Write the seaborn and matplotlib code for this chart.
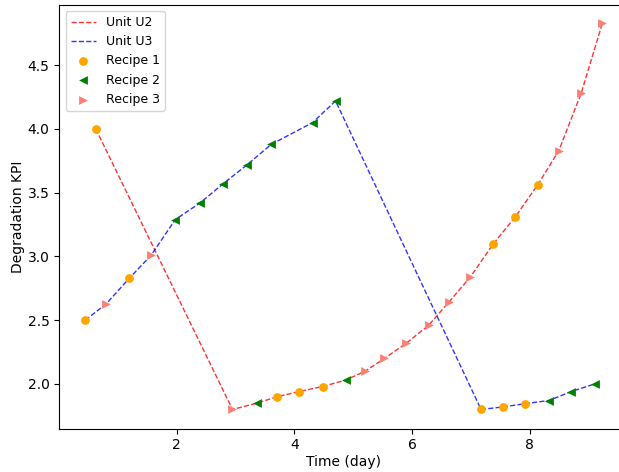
import seaborn as sns
import matplotlib.pyplot as plt
import pandas as pd

# Unit U2 trace
u2_time = [0.63, 2.95, 3.37, 3.71, 4.08, 4.48, 4.87, 5.20, 5.53, 5.90, 6.28,
           6.62, 6.99, 7.38, 7.75, 8.13, 8.49, 8.87, 9.23]
u2_kpi = [4.00, 1.80, 1.85, 1.90, 1.94, 1.98, 2.03, 2.10, 2.20, 2.32, 2.46,
          2.64, 2.84, 3.10, 3.31, 3.56, 3.83, 4.28, 4.83]
u2_recipe = ['Recipe 1', 'Recipe 3', 'Recipe 2', 'Recipe 1', 'Recipe 1', 'Recipe 1',
             'Recipe 2', 'Recipe 3', 'Recipe 3', 'Recipe 3', 'Recipe 3', 'Recipe 3',
             'Recipe 3', 'Recipe 1', 'Recipe 1', 'Recipe 1', 'Recipe 3', 'Recipe 3',
             'Recipe 3']

# Unit U3 trace
u3_time = [0.45, 0.81, 1.20, 1.57, 1.98, 2.40, 2.79, 3.20, 3.61, 4.31, 4.70,
           7.17, 7.55, 7.91, 8.32, 8.70, 9.10]
u3_kpi = [2.50, 2.63, 2.83, 3.01, 3.29, 3.42, 3.57, 3.72, 3.88, 4.05, 4.22,
          1.80, 1.82, 1.845, 1.87, 1.94, 2.00]
u3_recipe = ['Recipe 1', 'Recipe 3', 'Recipe 1', 'Recipe 3', 'Recipe 2', 'Recipe 2',
             'Recipe 2', 'Recipe 2', 'Recipe 2', 'Recipe 2', 'Recipe 2', 'Recipe 1',
             'Recipe 1', 'Recipe 1', 'Recipe 2', 'Recipe 2', 'Recipe 2']

recipes = ['Recipe 1', 'Recipe 2', 'Recipe 3']
recipe_colors = {'Recipe 1': 'orange', 'Recipe 2': 'green', 'Recipe 3': 'salmon'}
recipe_markers = {'Recipe 1': 'o', 'Recipe 2': '<', 'Recipe 3': '>'}

df = pd.concat([
    pd.DataFrame({'time': u2_time, 'kpi': u2_kpi, 'recipe': u2_recipe, 'unit': 'Unit U2'}),
    pd.DataFrame({'time': u3_time, 'kpi': u3_kpi, 'recipe': u3_recipe, 'unit': 'Unit U3'}),
], ignore_index=True)

fig = plt.figure(figsize=(6.19, 4.72), dpi=100)
# axes runs a bit past the right edge, like the cropped original
ax = fig.add_axes([59.3 / 619, 43.3 / 472, 569 / 619, 424 / 472])

unit_colors = {'Unit U2': 'red', 'Unit U3': 'blue'}
for unit in ['Unit U2', 'Unit U3']:
    d = df[df['unit'] == unit]
    sns.lineplot(data=d, x='time', y='kpi', color=unit_colors[unit], linestyle='--',
                 linewidth=1, alpha=0.8, label=unit, sort=False, ax=ax)

for r in recipes:
    d = df[df['recipe'] == r]
    sns.scatterplot(data=d, x='time', y='kpi', color=recipe_colors[r],
                    marker=recipe_markers[r], s=40, linewidth=0, label=r,
                    zorder=3, ax=ax)

ax.set_xlim(0.01, 9.67)
ax.set_ylim(1.649, 4.975)
ax.spines['right'].set_visible(False)
ax.set_xlabel('Time (day)', labelpad=2)
ax.set_ylabel('Degradation KPI', labelpad=2)
ax.set_xticks([2, 4, 6, 8])
ax.set_yticks([2.0, 2.5, 3.0, 3.5, 4.0, 4.5])
ax.legend(loc='upper left', fontsize=9)

fig.savefig('out.png', dpi=100)
